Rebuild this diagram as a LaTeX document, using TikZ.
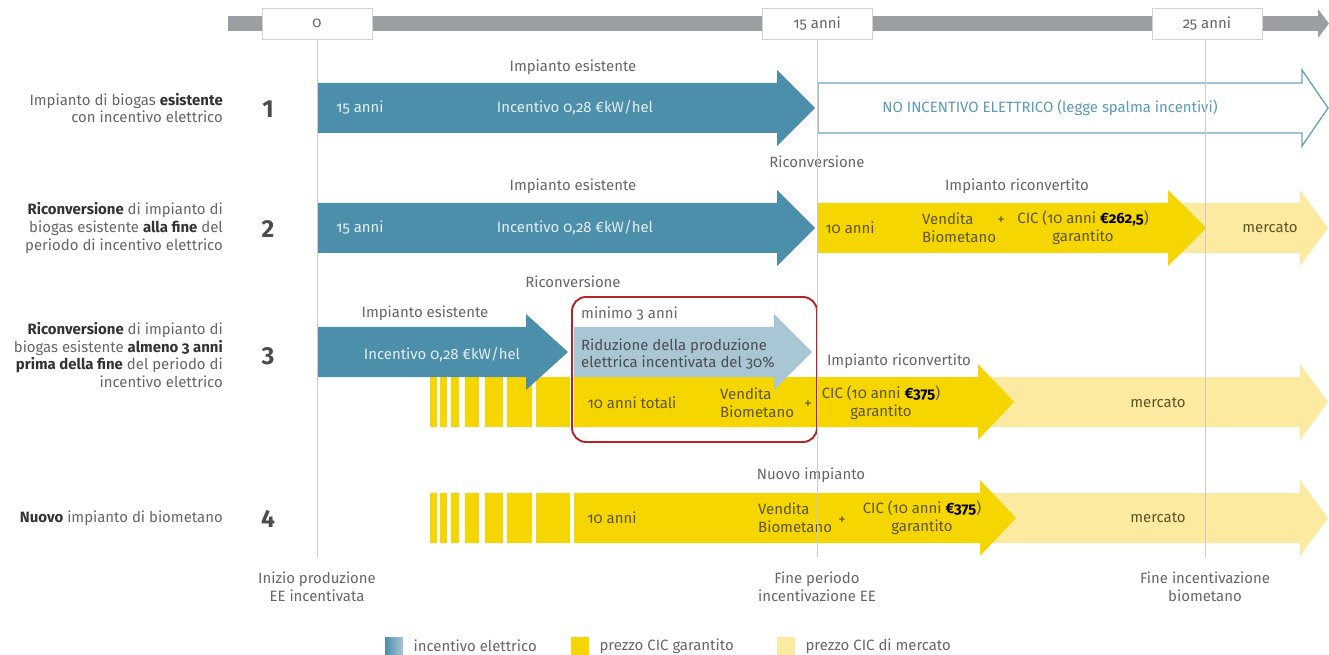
\documentclass[tikz,border=0pt]{standalone}
\usepackage{fontspec}
\setmainfont{Fira Sans}[Numbers=OldStyle]
\usetikzlibrary{positioning}

\definecolor{elec}{HTML}{4B8FAB}
\definecolor{elecl}{HTML}{A9C6D5}
\definecolor{cic}{HTML}{F6D600}
\definecolor{mkt}{HTML}{FBEAA0}
\definecolor{rosso}{HTML}{B5232B}
\definecolor{barra}{HTML}{9C9FA1}
\definecolor{testo}{HTML}{666666}
\definecolor{oliva}{HTML}{5E5425}

% arrow: [path options]{start x}{tip x}{centre y}{head length}
\newcommand{\flecha}[5][]{%
  \path[#1] (#2,{#4-25}) -- ({#3-#5},{#4-25}) -- ({#3-#5},{#4-38}) -- (#3,#4)
     -- ({#3-#5},{#4+38}) -- ({#3-#5},{#4+25}) -- (#2,{#4+25}) -- cycle;}

\begin{document}
\begin{tikzpicture}[x=0.02cm,y=-0.02cm,font=\fontsize{8.5}{10}\selectfont,
    anno/.style={draw=gray!35,fill=white,text=testo,minimum width=2.2cm,minimum height=0.62cm},
    guida/.style={gray!40,line width=0.5pt},
    lbl/.style={anchor=east,align=right,text=testo},
    num/.style={font=\fontsize{14}{14}\selectfont\bfseries\addfontfeatures{Numbers=Lining},text=black!70},
    sopra/.style={text=testo},
    dentro/.style={text=white!85!elec},
    giallo/.style={text=oliva},
    piu/.style={text=oliva,font=\fontsize{8.5}{8.5}\selectfont},
    swatch/.style={minimum size=0.36cm,inner sep=0pt},
    ]
\useasboundingbox (0,0) rectangle (1329,655);

%-------------------------------------------- Time axis
\fill[barra] (228,16) rectangle (1320,31);
\fill[barra] (1318,9) -- (1329,23.5) -- (1318,38) -- cycle;
\node[anno] (t0) at (317,23.5) {0};
\node[anno] (t15) at (817,23.5) {15 anni};
\node[anno] (t25) at (1207,23.5) {25 anni};

%-------------------------------------------- Row 1
\flecha[fill=elec]{317}{815}{108}{38}
\flecha[draw=elec!80,line width=0.8pt,fill=white]{818}{1328}{108}{26}
\node[sopra] (es1) at (573,67) {Impianto esistente};
\node[dentro,anchor=west] (an1) at (330,108) {15 anni};
\node[dentro] (in1) at (575,108) {Incentivo 0,28 €kW/hel};
\node[text=elec!90] (no1) at (1050,108) {NO INCENTIVO ELETTRICO (legge spalma incentivi)};
\node[lbl] (lab1) at (229,108) {Impianto di biogas \textbf{\color{black!80}esistente}\\con incentivo elettrico};
\node[num] (n1) at (268,109) {1};

%-------------------------------------------- Row 2
\node[sopra] (ric2) at (817,162) {Riconversione};
\flecha[fill=mkt]{1160}{1328}{228}{28}
\flecha[fill=cic]{818}{1206}{228}{38}
\flecha[fill=elec]{317}{815}{228}{38}
\node[sopra] (es2) at (573,186) {Impianto esistente};
\node[sopra] (rc2) at (1017,186) {Impianto riconvertito};
\node[dentro,anchor=west] (an2) at (330,228) {15 anni};
\node[dentro] (in2) at (575,228) {Incentivo 0,28 €kW/hel};
\node[giallo] (di2) at (850,228) {10 anni};
\node[giallo,anchor=west,align=left] (ve2) at (916,228) {Vendita\\Biometano};
\node[piu] (pl2) at (1001,221) {+};
\node[giallo,align=center] (ci2) at (1083,228) {CIC (10 anni \textbf{\color{black}€262,5})\\garantito};
\node[giallo] (me2) at (1270,228) {mercato};
\node[lbl] (lab2) at (229,228) {\textbf{\color{black!80}Riconversione} di impianto di\\biogas esistente \textbf{\color{black!80}alla fine} del\\periodo di incentivo elettrico};
\node[num] (n2) at (268,229) {2};

%-------------------------------------------- Row 3
\node[sopra] (ric3) at (573,282) {Riconversione};
\flecha[fill=mkt]{975}{1328}{402}{28}
\foreach \a/\b in {430/437,440/447,451/459,465/479,485/503,507/532,536/570}
  \fill[cic] (\a,377) rectangle (\b,427);
\flecha[fill=cic]{574}{1014}{402}{36}
\flecha[fill=elec]{317}{568}{352}{42}
\flecha[fill=elecl]{574}{812}{352}{38}
\draw[rosso,line width=1.1pt,rounded corners=8] (572,297) rectangle (817,442);
\node[sopra] (es3) at (425,313) {Impianto esistente};
\node[sopra,anchor=west] (mi3) at (575,314) {minimo 3 anni};
\node[dentro] (in3) at (442,355) {Incentivo 0,28 €kW/hel};
\node[text=black!70,anchor=west,align=left] (ri3) at (575,354) {Riduzione della produzione\\elettrica incentivata del 30\%};
\node[sopra] (rc3) at (899,361) {Impianto riconvertito};
\node[giallo] (di3) at (632,403) {10 anni totali};
\node[giallo,anchor=west,align=left] (ve3) at (714,403) {Vendita\\Biometano};
\node[piu] (pl3) at (808,405) {+};
\node[giallo,align=center] (ci3) at (881,403) {CIC (10 anni \textbf{\color{black}€375})\\garantito};
\node[giallo] (me3) at (1158,403) {mercato};
\node[lbl] (lab3) at (229,355) {\textbf{\color{black!80}Riconversione} di impianto di\\biogas esistente \textbf{\color{black!80}almeno 3 anni}\\\textbf{\color{black!80}prima della fine} del periodo di\\incentivo elettrico};
\node[num] (n3) at (268,356) {3};

%-------------------------------------------- Row 4
\node[sopra] (nu4) at (811,475) {Nuovo impianto};
\flecha[fill=mkt]{975}{1328}{518}{28}
\foreach \a/\b in {430/437,440/447,451/459,465/479,485/503,507/532,536/570}
  \fill[cic] (\a,493) rectangle (\b,543);
\flecha[fill=cic]{574}{1016}{518}{36}
\node[giallo] (di4) at (612,518) {10 anni};
\node[giallo,anchor=west,align=left] (ve4) at (752,518) {Vendita\\Biometano};
\node[piu] (pl4) at (842,521) {+};
\node[giallo,align=center] (ci4) at (922,518) {CIC (10 anni \textbf{\color{black}€375})\\garantito};
\node[giallo] (me4) at (1158,518) {mercato};
\node[lbl] (lab4) at (229,518) {\textbf{\color{black!80}Nuovo} impianto di biometano};
\node[num] (n4) at (268,519) {4};

%-------------------------------------------- Guide lines
\draw[guida] (t0.south) -- ++(0,518);
\draw[guida] (t15.south) -- ++(0,518);
\draw[guida] (1205,39) -- ++(0,518);

%-------------------------------------------- Bottom labels
\node[sopra,align=center] (b1) at (317,587) {Inizio produzione\\EE incentivata};
\node[sopra,align=center] (b2) at (817,587) {Fine periodo\\incentivazione EE};
\node[sopra,align=center] (b3) at (1205,587) {Fine incentivazione\\biometano};

%-------------------------------------------- Legend
\node[swatch,left color=elec,right color=elecl] (sw1) at (394,646) {};
\node[sopra,right=0.08cm of sw1] (lg1) {incentivo elettrico};
\node[swatch,fill=cic] (sw2) at (580,646) {};
\node[sopra,right=0.08cm of sw2] (lg2) {prezzo CIC garantito};
\node[swatch,fill=mkt] (sw3) at (786,646) {};
\node[sopra,right=0.08cm of sw3] (lg3) {prezzo CIC di mercato};

\end{tikzpicture}
\end{document}
